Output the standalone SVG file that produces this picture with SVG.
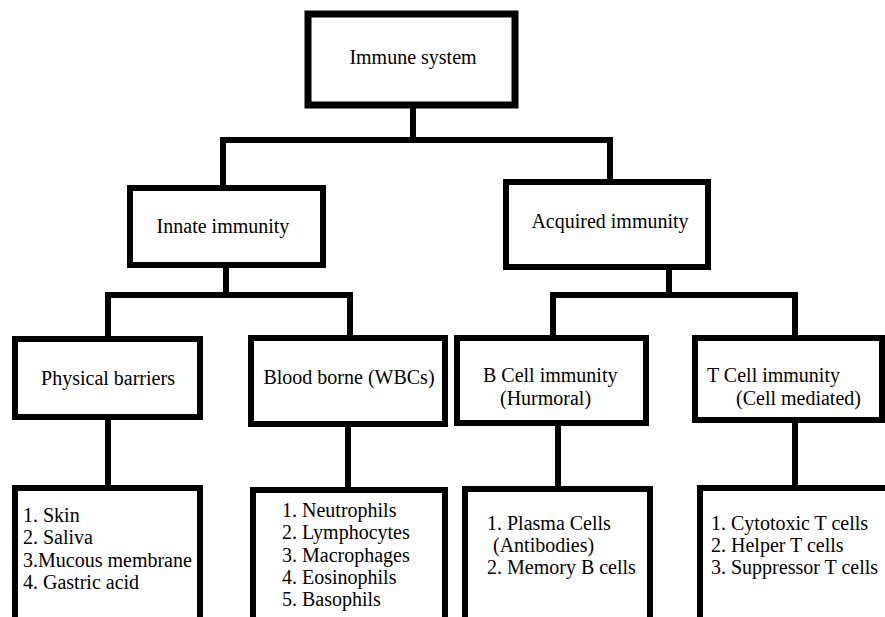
<svg xmlns="http://www.w3.org/2000/svg" width="885" height="617" viewBox="0 0 885 617" font-family="Liberation Serif, DejaVu Serif, serif" font-size="20">
<style>
.box{fill:#fff;stroke:#000;stroke-width:6}
.c{fill:none;stroke:#000;stroke-width:6;stroke-linejoin:miter;stroke-linecap:square}
.m{text-anchor:middle}
</style>
<rect width="885" height="617" fill="#fff"/>
<g id="connectors">
<path class="c" d="M413,108 V140"/>
<path class="c" d="M223,185 V140 H610 V179"/>
<path class="c" d="M226,268 V295"/>
<path class="c" d="M108,336 V295 H350 V335"/>
<path class="c" d="M669,270 V295"/>
<path class="c" d="M553,335 V295 H795 V335"/>
<path class="c" d="M108,420 V485"/>
<path class="c" d="M348,427 V487"/>
<path class="c" d="M558,426 V486"/>
<path class="c" d="M795,423 V485"/>
</g>
<g id="immune-system">
<rect class="box" x="308" y="14" width="207" height="91" style="stroke-width:7"/>
<text class="m" x="413" y="64" font-family="Liberation Serif, serif">Immune system</text>
</g>
<g id="innate-immunity">
<rect class="box" x="130" y="188" width="193" height="77"/>
<text class="m" x="223" y="233" font-family="Liberation Serif, serif">Innate immunity</text>
</g>
<g id="acquired-immunity">
<rect class="box" x="506" y="182" width="202" height="85"/>
<text class="m" x="610" y="228" font-family="Liberation Serif, serif">Acquired immunity</text>
</g>
<g id="physical-barriers">
<rect class="box" x="15" y="339" width="185" height="78"/>
<text class="m" x="108" y="385" font-family="Liberation Serif, serif">Physical barriers</text>
</g>
<g id="blood-borne">
<rect class="box" x="251" y="338" width="194" height="86"/>
<text class="m" x="349" y="384" font-family="Liberation Serif, serif">Blood borne (WBCs)</text>
</g>
<g id="b-cell" font-family="Liberation Serif, serif">
<rect class="box" x="457" y="338" width="189" height="85"/>
<text x="483" y="382">B Cell immunity</text>
<text x="500" y="405">(Hurmoral)</text>
</g>
<g id="t-cell" font-family="Liberation Serif, serif">
<rect class="box" x="695" y="338" width="187" height="82"/>
<text x="707" y="382">T Cell immunity</text>
<text x="736" y="405">(Cell mediated)</text>
</g>
<g id="physical-list" font-family="Liberation Serif, serif">
<rect class="box" x="15" y="488" width="185" height="140"/>
<text x="23" y="522">1. Skin</text>
<text x="23" y="544">2. Saliva</text>
<text x="23" y="567">3.Mucous membrane</text>
<text x="23" y="589">4. Gastric acid</text>
</g>
<g id="blood-list" font-family="Liberation Serif, serif">
<rect class="box" x="253" y="490" width="192" height="140"/>
<text x="282" y="517">1. Neutrophils</text>
<text x="282" y="539">2. Lymphocytes</text>
<text x="282" y="562">3. Macrophages</text>
<text x="282" y="584">4. Eosinophils</text>
<text x="282" y="606">5. Basophils</text>
</g>
<g id="b-cell-list" font-family="Liberation Serif, serif">
<rect class="box" x="465" y="489" width="185" height="140"/>
<text x="487" y="530">1. Plasma Cells</text>
<text x="493" y="552">(Antibodies)</text>
<text x="487" y="574">2. Memory B cells</text>
</g>
<g id="t-cell-list" font-family="Liberation Serif, serif">
<rect class="box" x="700" y="488" width="200" height="140"/>
<text x="711" y="530">1. Cytotoxic T cells</text>
<text x="711" y="552">2. Helper T cells</text>
<text x="711" y="574">3. Suppressor T cells</text>
</g>
</svg>
